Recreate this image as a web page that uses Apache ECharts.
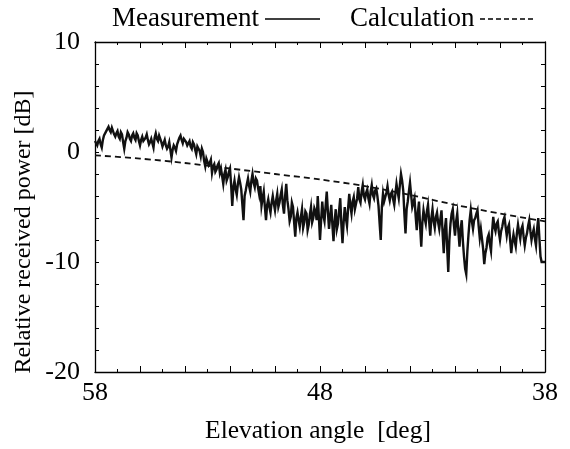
<!DOCTYPE html>
<html><head><meta charset="utf-8">
<script src="https://cdn.jsdelivr.net/npm/echarts@6/dist/echarts.min.js"></script>
<style>html,body{margin:0;padding:0;background:#fff}#c{width:570px;height:449px}</style>
</head><body><div id="c"></div>
<script>
// Measurement: sampled every 0.05 deg from 58 deg down to 38 deg
var measStartDeg = 58;
var measStepDeg = 0.05;
var measValues = [
  1.0, 0.8, 0.6, 1.0, 1.2, 0.7, 0.4, 1.1, 1.5, 1.6, 1.9, 2.0, 2.3, 2.0, 1.8, 2.2, 2.1, 1.6, 1.4, 1.7,
  1.9, 1.4, 1.2, 1.8, 1.6, 0.9, 0.3, 1.0, 1.3, 1.8, 1.6, 1.2, 1.0, 1.5, 1.7, 1.3, 1.1, 1.7, 1.5, 1.0,
  0.6, 1.1, 1.4, 1.0, 0.9, 1.3, 1.6, 1.1, 0.7, 0.9, 1.2, 0.8, 0.4, 1.3, 1.7, 1.2, 1.0, 1.5, 1.4, 0.9,
  0.5, 0.8, 1.1, 0.6, 0.3, 0.5, 0.9, 0.2, -0.5, 0.2, 0.6, 0.4, 0.1, 0.7, 1.0, 1.3, 1.5, 1.1, 0.8, 1.2,
  1.2, 0.9, 0.6, 0.8, 1.0, 0.5, 0.3, 0.9, 0.7, 0.2, -0.2, 0.5, 0.4, 0.1, -0.4, 0.3, 0.0, -0.8, -1.3, -0.6,
  -0.5, -1.2, -1.0, -0.7, -1.9, -1.3, -1.1, -1.8, -1.6, -1.2, -1.0, -1.9, -1.5, -2.2, -2.9, -2.0, -1.6, -2.6, -2.3, -1.8,
  -1.5, -3.0, -4.9, -3.2, -2.6, -3.4, -3.9, -2.9, -2.3, -2.8, -3.4, -4.8, -6.2, -4.0, -3.5, -2.9, -2.4, -3.1, -3.6, -2.6,
  -2.0, -2.8, -3.2, -2.4, -2.6, -3.3, -3.9, -3.1, -4.9, -4.2, -3.6, -5.0, -6.2, -4.8, -4.3, -5.0, -5.5, -4.6, -4.0, -4.7,
  -5.3, -4.4, -3.8, -5.0, -4.6, -3.9, -3.4, -4.8, -5.6, -4.0, -2.9, -4.4, -5.2, -6.3, -5.9, -4.6, -5.0, -6.4, -7.7, -6.0,
  -5.5, -6.2, -6.8, -5.9, -5.2, -6.9, -6.4, -5.4, -5.6, -7.1, -6.6, -5.7, -5.0, -6.4, -6.0, -5.1, -5.4, -6.2, -4.0, -5.9,
  -8.0, -6.2, -4.5, -5.8, -6.3, -4.9, -3.6, -5.4, -7.0, -5.9, -4.8, -6.6, -8.1, -6.3, -5.2, -7.0, -6.5, -5.3, -4.2, -6.6,
  -8.3, -6.4, -5.0, -6.0, -6.7, -5.1, -3.8, -4.9, -5.6, -4.5, -4.1, -5.2, -5.3, -4.2, -3.2, -4.3, -4.6, -3.6, -3.0, -4.0,
  -4.3, -3.7, -3.4, -4.2, -4.7, -3.6, -3.0, -3.9, -4.2, -3.5, -3.3, -4.0, -4.9, -6.5, -8.0, -5.0, -3.8, -4.5, -4.6, -3.7,
  -3.1, -3.9, -4.4, -3.8, -3.6, -4.3, -4.8, -3.8, -2.9, -3.6, -4.2, -3.0, -2.0, -2.6, -3.5, -5.6, -7.4, -5.2, -4.5, -3.6,
  -2.8, -3.9, -5.0, -4.6, -4.2, -5.8, -7.1, -5.5, -4.5, -6.8, -8.6, -6.4, -5.3, -6.0, -6.5, -5.4, -4.8, -6.3, -7.6, -6.0,
  -5.2, -6.3, -6.9, -5.9, -5.5, -6.4, -7.0, -6.1, -5.3, -7.4, -9.2, -7.0, -6.0, -8.6, -10.9, -8.0, -6.5, -5.6, -5.2, -6.6,
  -7.6, -6.3, -5.6, -7.2, -8.6, -7.0, -6.2, -8.1, -9.5, -10.6, -11.1, -9.0, -7.5, -6.2, -5.3, -6.3, -7.0, -6.2, -6.0, -5.6,
  -5.3, -6.7, -7.8, -7.0, -6.9, -8.8, -10.2, -9.2, -8.7, -7.8, -7.5, -8.4, -9.0, -7.2, -5.9, -6.8, -7.2, -6.5, -6.3, -7.3,
  -8.0, -7.2, -6.8, -6.2, -5.9, -6.8, -7.6, -6.9, -6.6, -8.0, -9.2, -8.2, -7.5, -8.1, -8.6, -7.4, -6.6, -7.3, -7.9, -7.0,
  -6.7, -7.7, -8.5, -7.8, -7.4, -6.7, -6.2, -7.2, -8.0, -7.4, -7.0, -7.9, -8.5, -7.0, -6.0, -7.8, -9.5, -10.0, -10.0, -10.0,
  -10.0
];
// Calculation curve
var calcAngles = [58, 56, 54, 52, 50, 48, 46, 44, 42, 40, 38];
var calcValues = [-0.3, -0.6, -1.0, -1.5, -2.0, -2.5, -3.1, -3.9, -4.8, -5.6, -6.3];

var xLabelTicks = [58, 48, 38];
var yLabelTicks = [10, 0, -10, -20];
var legendNames = ['Measurement', 'Calculation'];
var xTitle = 'Elevation angle  [deg]';
var yTitle = 'Relative received power [dB]';

var measData = measValues.map(function (v, i) {
  return [+(measStartDeg - i * measStepDeg).toFixed(2), v];
});
var calcData = calcAngles.map(function (a, i) { return [a, calcValues[i]]; });

var FONT = 'Liberation Serif';
var chart = echarts.init(document.getElementById('c'), null, {renderer: 'canvas'});

function xAxisCfg(pos, labels) {
  return {
    type: 'value', position: pos, min: 38, max: 58, interval: 2, inverse: true,
    axisLine: {show: true, onZero: false, lineStyle: {color: '#000', width: 1.3}},
    axisTick: {show: true, inside: true, length: 6, lineStyle: {color: '#000'}},
    minorTick: {show: true, splitNumber: 2, length: 3, lineStyle: {color: '#000'}},
    splitLine: {show: false},
    axisLabel: {
      show: labels, margin: 8, color: '#000', fontFamily: FONT, fontSize: 26,
      formatter: function (v) { return xLabelTicks.indexOf(v) >= 0 ? String(v) : ''; }
    }
  };
}
function yAxisCfg(pos, labels) {
  return {
    type: 'value', position: pos, min: -20, max: 10, interval: 2,
    axisLine: {show: true, onZero: false, lineStyle: {color: '#000', width: 1.3}},
    axisTick: {show: true, inside: true, length: 4, lineStyle: {color: '#000'}},
    splitLine: {show: false},
    axisLabel: {
      show: labels, margin: 15, color: '#000', fontFamily: FONT, fontSize: 26,
      formatter: function (v) { return yLabelTicks.indexOf(v) >= 0 ? String(v) : ''; }
    }
  };
}

chart.setOption({
  animation: false,
  backgroundColor: '#fff',
  grid: {left: 95, right: 25, top: 42, bottom: 77, containLabel: false},
  xAxis: [xAxisCfg('bottom', true), xAxisCfg('top', false)],
  yAxis: [yAxisCfg('left', true), yAxisCfg('right', false)],
  graphic: [
    {type: 'text', x: 112, y: 19,
     style: {text: legendNames[0], fontFamily: FONT, fontSize: 27, fill: '#000', verticalAlign: 'middle'}},
    {type: 'line', shape: {x1: 265, y1: 19, x2: 320, y2: 19}, style: {stroke: '#000', lineWidth: 1.6}},
    {type: 'text', x: 350, y: 19,
     style: {text: legendNames[1], fontFamily: FONT, fontSize: 27, fill: '#000', verticalAlign: 'middle'}},
    {type: 'line', shape: {x1: 480, y1: 19, x2: 536, y2: 19},
     style: {stroke: '#000', lineWidth: 1.4, lineDash: [5, 3]}},
    {type: 'text', x: 318, y: 431,
     style: {text: xTitle, fontFamily: FONT, fontSize: 25.5, fill: '#000', align: 'center', verticalAlign: 'middle'}},
    {type: 'text', x: 24, y: 232, rotation: Math.PI / 2,
     style: {text: yTitle, fontFamily: FONT, fontSize: 24, fill: '#000', align: 'center', verticalAlign: 'middle'}}
  ],
  series: [
    {name: legendNames[0], type: 'line', data: measData, showSymbol: false, symbol: 'none',
     lineStyle: {color: '#111', width: 2.4, join: 'miter'}, z: 3},
    {name: legendNames[1], type: 'line', data: calcData, showSymbol: false, symbol: 'none', smooth: 0.3,
     lineStyle: {color: '#111', width: 1.8, type: [6, 4]}, z: 2}
  ]
});
</script></body></html>
